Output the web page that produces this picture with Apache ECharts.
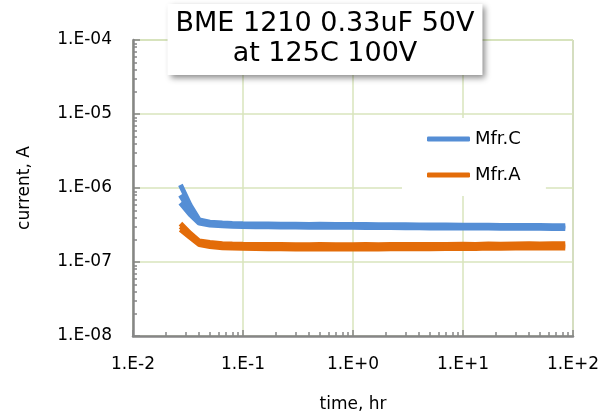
<!DOCTYPE html>
<html>
<head>
<meta charset="utf-8">
<script src="https://cdn.jsdelivr.net/npm/echarts@6/dist/echarts.min.js"></script>
<style>
  html, body { margin: 0; padding: 0; background: #fff; }
  #chart { width: 601px; height: 414px; }
</style>
</head>
<body>
<div id="chart"></div>
<script>
// time axis (hr)
var time = [0.027, 0.033, 0.04, 0.05, 0.065, 0.08, 0.1, 0.13, 0.17, 0.22, 0.3, 0.4, 0.5, 0.7, 1,
  1.3, 1.7, 2.2, 3, 4, 5, 7, 10, 13, 17, 22, 30, 40, 50, 65, 85];

// Mfr.C samples (A)
var mfrC1 = [1.1e-6, 5.9e-7, 3.7e-7, 3.45e-7, 3.36e-7, 3.32e-7, 3.29e-7, 3.27e-7, 3.26e-7, 3.24e-7, 3.24e-7, 3.22e-7, 3.23e-7, 3.22e-7, 3.21e-7,
  3.2e-7, 3.19e-7, 3.19e-7, 3.18e-7, 3.17e-7, 3.16e-7, 3.16e-7, 3.14e-7, 3.14e-7, 3.13e-7, 3.12e-7, 3.12e-7, 3.11e-7, 3.11e-7, 3.1e-7, 3.1e-7];
var mfrC2 = [8.0e-7, 4.9e-7, 3.5e-7, 3.3e-7, 3.22e-7, 3.18e-7, 3.15e-7, 3.13e-7, 3.12e-7, 3.1e-7, 3.1e-7, 3.08e-7, 3.1e-7, 3.08e-7, 3.07e-7,
  3.06e-7, 3.05e-7, 3.05e-7, 3.04e-7, 3.03e-7, 3.02e-7, 3.02e-7, 3.0e-7, 3.0e-7, 2.99e-7, 2.98e-7, 2.98e-7, 2.97e-7, 2.97e-7, 2.96e-7, 2.96e-7];
var mfrC3 = [6.3e-7, 4.4e-7, 3.35e-7, 3.15e-7, 3.08e-7, 3.04e-7, 3.02e-7, 3.0e-7, 2.99e-7, 2.97e-7, 2.97e-7, 2.95e-7, 2.96e-7, 2.95e-7, 2.94e-7,
  2.93e-7, 2.92e-7, 2.92e-7, 2.91e-7, 2.9e-7, 2.89e-7, 2.89e-7, 2.88e-7, 2.87e-7, 2.87e-7, 2.86e-7, 2.86e-7, 2.85e-7, 2.85e-7, 2.84e-7, 2.84e-7];

// Mfr.A samples (A)
var mfrA1 = [3.3e-7, 2.45e-7, 1.92e-7, 1.83e-7, 1.77e-7, 1.75e-7, 1.74e-7, 1.73e-7, 1.72e-7, 1.72e-7, 1.71e-7, 1.71e-7, 1.72e-7, 1.71e-7, 1.71e-7,
  1.72e-7, 1.71e-7, 1.72e-7, 1.72e-7, 1.73e-7, 1.72e-7, 1.73e-7, 1.74e-7, 1.73e-7, 1.75e-7, 1.74e-7, 1.75e-7, 1.76e-7, 1.75e-7, 1.76e-7, 1.76e-7];
var mfrA2 = [3.0e-7, 2.3e-7, 1.82e-7, 1.72e-7, 1.66e-7, 1.64e-7, 1.63e-7, 1.62e-7, 1.61e-7, 1.61e-7, 1.6e-7, 1.6e-7, 1.61e-7, 1.6e-7, 1.6e-7,
  1.61e-7, 1.6e-7, 1.61e-7, 1.61e-7, 1.62e-7, 1.61e-7, 1.62e-7, 1.63e-7, 1.62e-7, 1.64e-7, 1.63e-7, 1.64e-7, 1.65e-7, 1.64e-7, 1.65e-7, 1.65e-7];
var mfrA3 = [2.75e-7, 2.15e-7, 1.72e-7, 1.62e-7, 1.56e-7, 1.54e-7, 1.53e-7, 1.52e-7, 1.51e-7, 1.51e-7, 1.5e-7, 1.5e-7, 1.51e-7, 1.5e-7, 1.5e-7,
  1.51e-7, 1.5e-7, 1.51e-7, 1.51e-7, 1.52e-7, 1.51e-7, 1.52e-7, 1.53e-7, 1.52e-7, 1.54e-7, 1.53e-7, 1.54e-7, 1.55e-7, 1.54e-7, 1.55e-7, 1.55e-7];

// tick labels
var xTickLabels = ["1.E-2", "1.E-1", "1.E+0", "1.E+1", "1.E+2"];
var yTickLabels = ["1.E-08", "1.E-07", "1.E-06", "1.E-05", "1.E-04"];

var blue = "#558ed5";
var orange = "#e36c09";
var font = "DejaVu Sans";

function pairs(ys) {
  return time.map(function (t, i) { return [t, ys[i]]; });
}

function sample(name, ys, color) {
  return {
    name: name,
    type: "line",
    data: pairs(ys),
    symbol: "none",
    color: color,
    lineStyle: { color: color, width: 5 },
    emphasis: { disabled: true }
  };
}

var chart = echarts.init(document.getElementById("chart"));

var option = {
  animation: false,
  title: {
    text: "BME 1210 0.33uF 50V\nat 125C 100V",
    left: 317,
    top: 4,
    textAlign: "center",
    backgroundColor: "#fff",
    padding: [5, 8, 6, 8],
    shadowBlur: 6,
    shadowColor: "rgba(0, 0, 0, 0.45)",
    shadowOffsetX: 3,
    shadowOffsetY: 3,
    textStyle: { fontFamily: font, fontSize: 27, fontWeight: "normal", color: "#000", lineHeight: 30 }
  },
  legend: {
    orient: "vertical",
    left: 402,
    top: 118,
    backgroundColor: "#fff",
    padding: [12, 25, 12, 25],
    icon: "roundRect",
    itemWidth: 43,
    itemHeight: 5,
    itemGap: 18,
    data: ["Mfr.C", "Mfr.A"],
    textStyle: { fontFamily: font, fontSize: 18, color: "#000" }
  },
  grid: {
    left: 133,
    right: 28,
    top: 40,
    bottom: 78,
    outerBoundsMode: "none",
    show: true,
    borderColor: "#9a9a9a",
    borderWidth: 1
  },
  xAxis: {
    type: "log",
    logBase: 10,
    min: 0.01,
    max: 100,
    name: "time, hr",
    nameLocation: "middle",
    nameGap: 60,
    nameTextStyle: { fontFamily: font, fontSize: 17, color: "#000" },
    axisLine: { lineStyle: { color: "#868686", width: 2.5 } },
    axisTick: { inside: true, length: 6, lineStyle: { color: "#868686", width: 1.5 } },
    minorTick: { show: true, splitNumber: 9, length: 4, lineStyle: { color: "#868686", width: 1.5 } },
    axisLabel: {
      fontFamily: font, fontSize: 17, color: "#000", margin: 20,
      formatter: function (v) { return xTickLabels[Math.round(Math.log10(v)) + 2]; }
    },
    splitLine: { show: true, lineStyle: { color: "#d8e4bc", width: 1.5 } }
  },
  yAxis: {
    type: "log",
    logBase: 10,
    min: 1e-8,
    max: 1e-4,
    name: "current, A",
    nameLocation: "middle",
    nameGap: 100,
    nameRotate: 90,
    nameTextStyle: { fontFamily: font, fontSize: 17, color: "#000" },
    axisLine: { show: true, lineStyle: { color: "#868686", width: 2.5 } },
    axisTick: { inside: true, length: 7, lineStyle: { color: "#868686", width: 1.5 } },
    minorTick: { show: true, splitNumber: 9, length: 4, lineStyle: { color: "#868686", width: 1.5 } },
    axisLabel: {
      fontFamily: font, fontSize: 17, color: "#000", margin: 21,
      formatter: function (v) { return yTickLabels[Math.round(Math.log10(v)) + 8]; }
    },
    splitLine: { show: true, lineStyle: { color: "#d8e4bc", width: 1.5 } }
  },
  series: [
    sample("Mfr.A", mfrA1, orange),
    sample("Mfr.A", mfrA2, orange),
    sample("Mfr.A", mfrA3, orange),
    sample("Mfr.C", mfrC1, blue),
    sample("Mfr.C", mfrC2, blue),
    sample("Mfr.C", mfrC3, blue)
  ]
};

chart.setOption(option);
</script>
</body>
</html>
